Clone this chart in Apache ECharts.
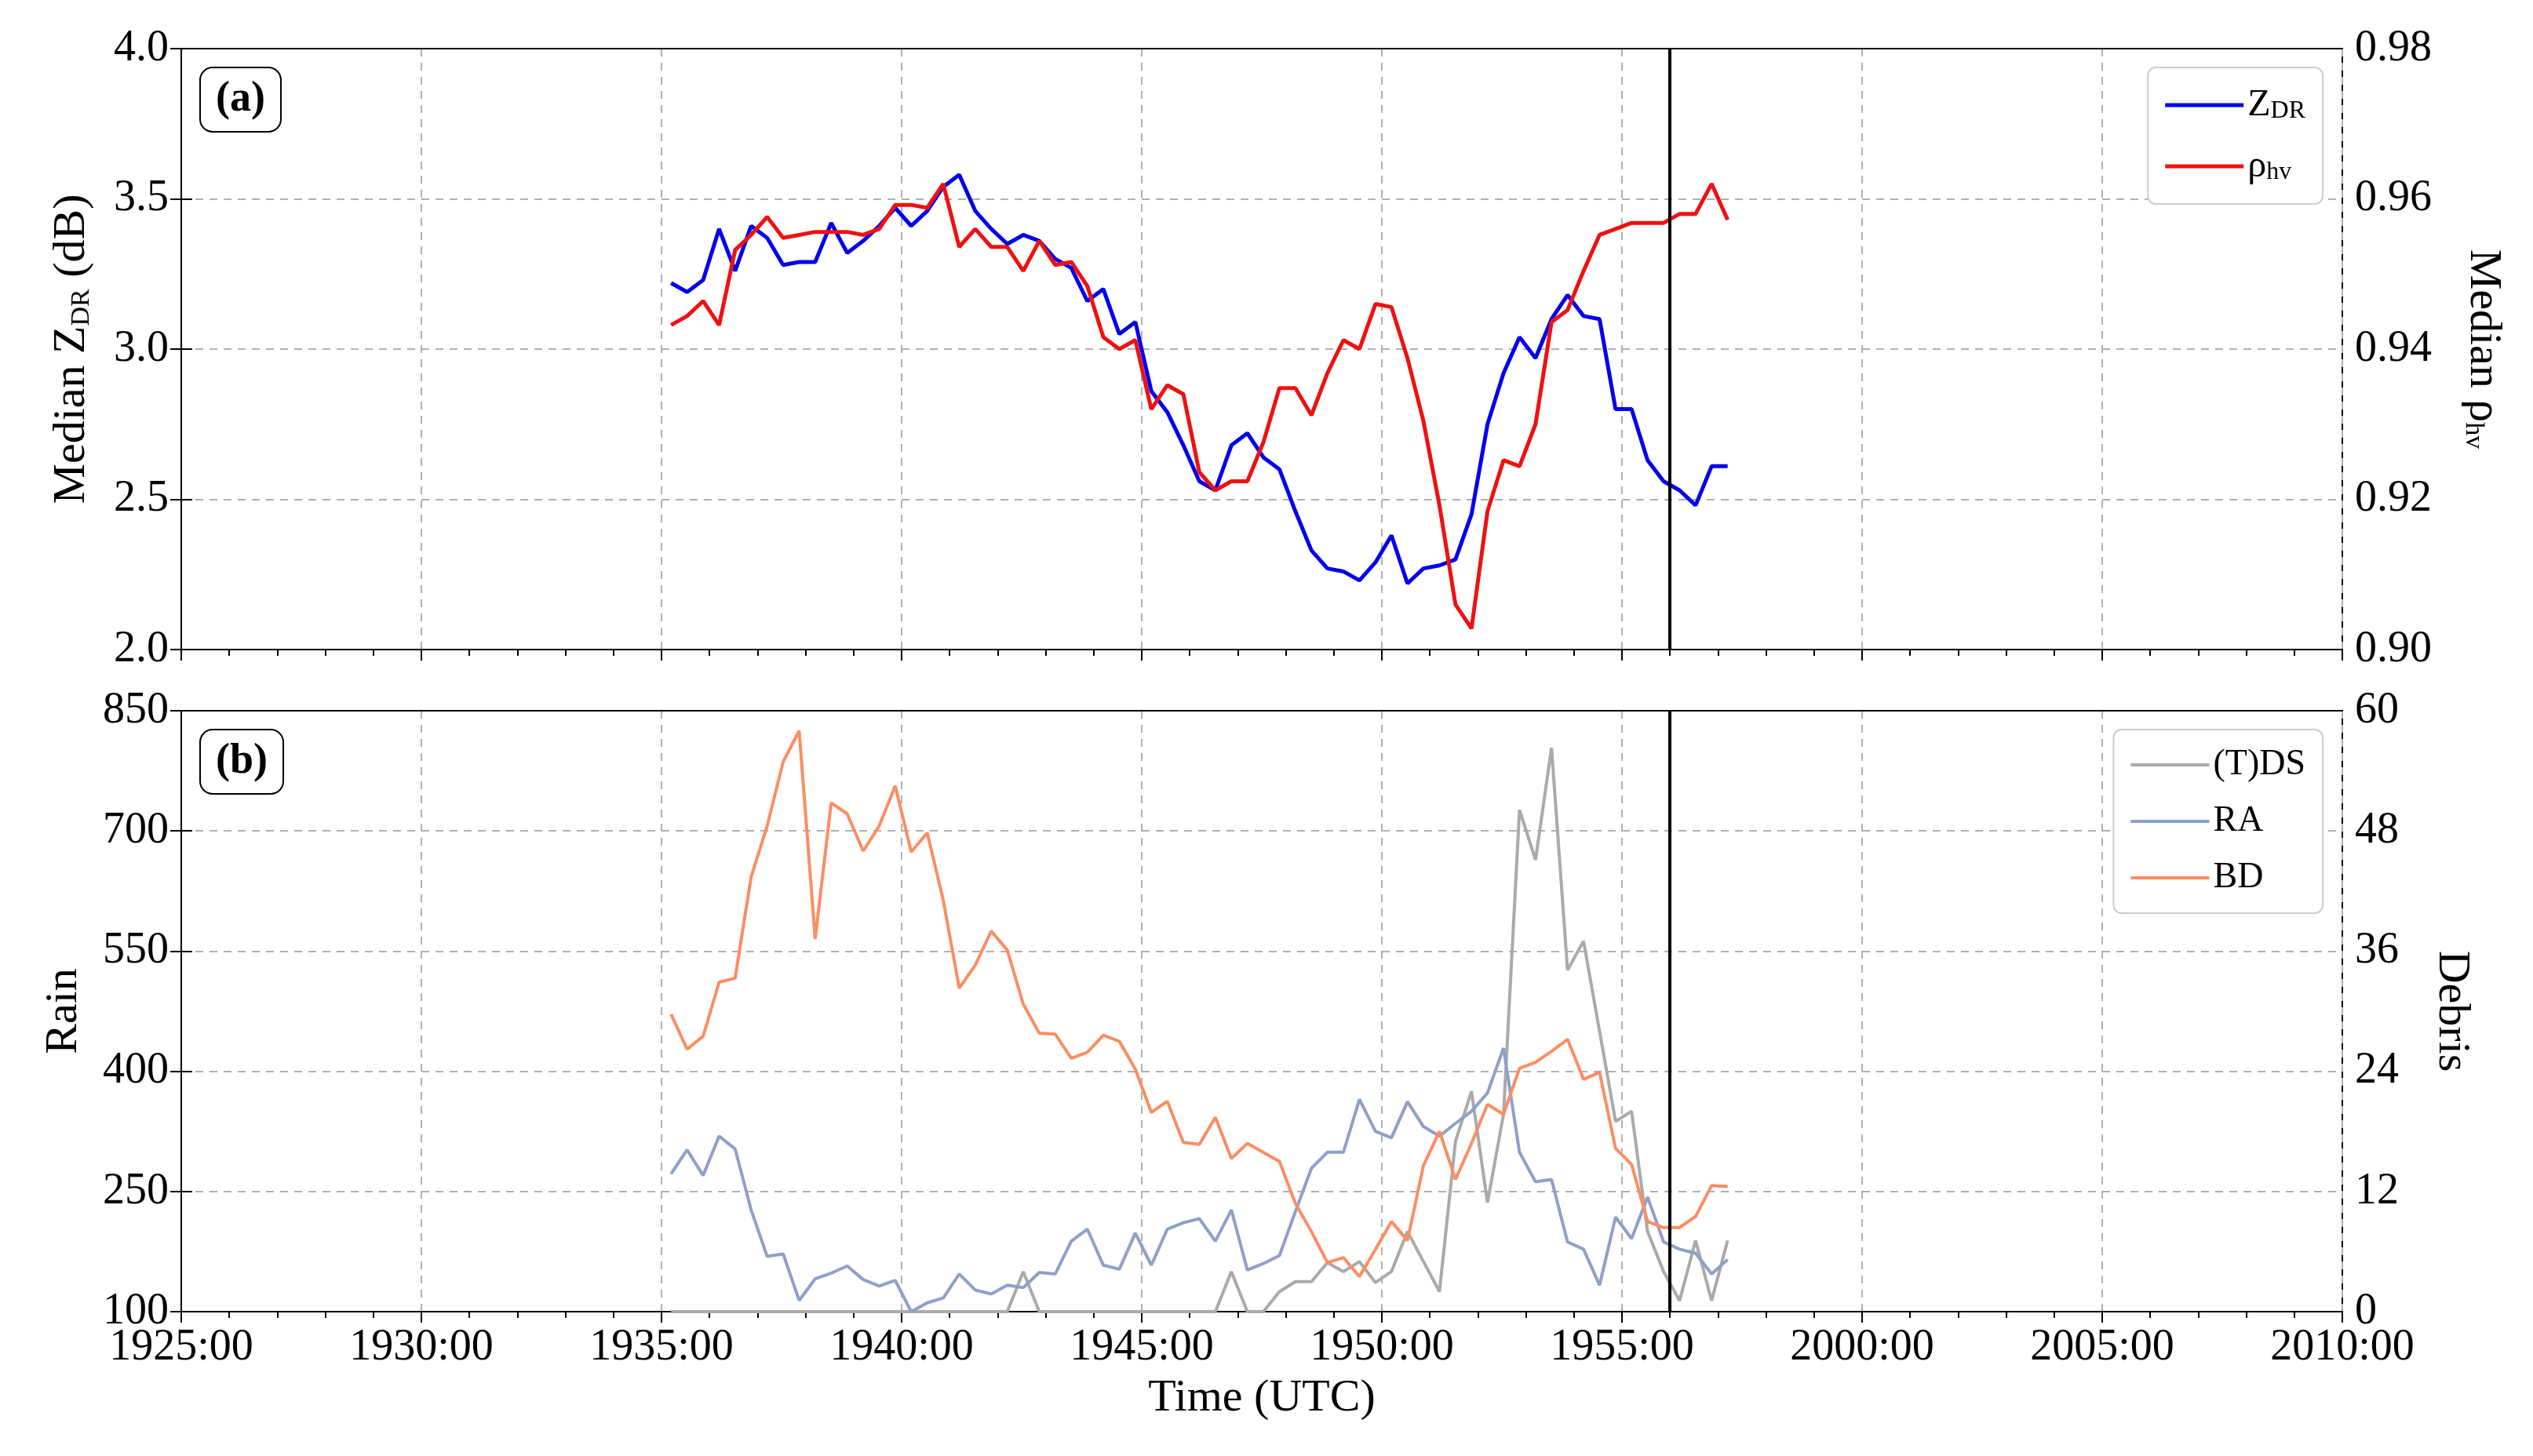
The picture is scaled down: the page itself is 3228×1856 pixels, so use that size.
<!DOCTYPE html>
<html>
<head>
<meta charset="utf-8">
<script src="https://cdn.jsdelivr.net/npm/echarts@6/dist/echarts.min.js"></script>
<style>html,body{margin:0;padding:0;background:#fff}#main{width:3228px;height:1856px}</style>
</head>
<body>
<div id="main"></div>
<script>
// scan times (UTC), one every ~20 s
var scanTimes = [
  '19:35:12','19:35:32','19:35:52','19:36:12','19:36:32','19:36:52','19:37:12','19:37:32','19:37:52',
  '19:38:12','19:38:32','19:38:52','19:39:12','19:39:32','19:39:52','19:40:12','19:40:32','19:40:52',
  '19:41:12','19:41:32','19:41:52','19:42:12','19:42:32','19:42:52','19:43:12','19:43:32','19:43:52',
  '19:44:12','19:44:32','19:44:52','19:45:12','19:45:32','19:45:52','19:46:12','19:46:32','19:46:52',
  '19:47:12','19:47:32','19:47:52','19:48:12','19:48:32','19:48:52','19:49:12','19:49:32','19:49:52',
  '19:50:12','19:50:32','19:50:52','19:51:12','19:51:32','19:51:52','19:52:12','19:52:32','19:52:52',
  '19:53:12','19:53:32','19:53:52','19:54:12','19:54:32','19:54:52','19:55:12','19:55:32','19:55:52',
  '19:56:12','19:56:32','19:56:52','19:57:12'
];
var zdr = [
  3.22,3.19,3.23,3.40,3.26,3.41,3.37,3.28,3.29,3.29,3.42,3.32,3.36,3.41,3.47,3.41,3.46,3.54,3.58,3.46,
  3.40,3.35,3.38,3.36,3.30,3.27,3.16,3.20,3.05,3.09,2.86,2.79,2.68,2.56,
  2.53,2.68,2.72,2.64,2.60,2.46,2.33,2.27,2.26,2.23,2.29,2.38,2.22,2.27,2.28,2.30,2.45,2.75,2.92,3.04,
  2.97,3.10,3.18,3.11,3.10,2.80,2.80,2.63,2.56,2.53,2.48,2.61,2.61
];
var rhohv = [
  0.9432,0.9444,0.9464,0.9432,0.9532,0.9552,0.9576,0.9548,0.9552,0.9556,0.9556,0.9556,0.9552,0.9560,
  0.9592,0.9592,0.9588,0.9620,0.9536,0.9560,0.9536,0.9536,0.9504,0.9544,0.9512,0.9516,0.9484,0.9416,
  0.9400,0.9412,0.9320,0.9352,0.9340,0.9236,
  0.9212,0.9224,0.9224,0.9276,0.9348,0.9348,0.9312,0.9368,0.9412,0.9400,0.9460,0.9456,0.9388,0.9304,
  0.9192,0.9060,0.9028,0.9184,0.9252,0.9244,0.9300,0.9436,0.9452,0.9504,0.9552,0.9560,0.9568,0.9568,
  0.9568,0.9580,0.9580,0.9620,0.9572
];
var tds = [
  0,0,0,0,0,0,0,0,0,0,0,0,0,0,0,0,0,0,0,0,0,0,4.0,0,0,0,0,0,0,0,0,0,0,0,
  0,4.0,0,0,2.0,3.0,3.0,4.9,4.0,5.0,2.9,4.0,8.0,5.0,2.0,17.0,22.0,10.9,19.7,50.1,45.1,56.3,34.1,
  37.0,28.0,19.0,20.0,8.0,4.0,1.1,7.1,1.1,7.1
];
var ra = [
  272,302,270,319,303,227,169,172,114,141,148,157,140,132,139,100,111,117,147,127,122,133,130,149,
  147,188,203,158,153,198,158,203,211,216,
  188,227,152,160,170,225,279,299,299,365,325,317,362,331,319,335,350,373,429,299,262,265,187,178,
  133,218,191,243,187,178,173,147,165
];
var bd = [
  29.7,26.2,27.5,32.9,33.3,43.4,48.5,54.9,58.0,37.2,50.8,49.7,46.0,48.5,52.5,45.9,47.8,41.1,32.3,
  34.6,38.0,36.1,30.7,27.8,27.7,25.3,25.9,27.6,27.0,24.2,19.9,21.0,16.9,16.7,
  19.4,15.3,16.8,15.9,15.0,10.8,8.0,4.9,5.4,3.5,6.2,9.0,7.1,14.6,18.0,13.2,16.8,20.7,19.7,24.3,
  24.9,26.0,27.2,23.2,23.9,16.3,14.7,9.0,8.4,8.4,9.5,12.6,12.5
];
var tornadoTime = '19:56:00';

// minutes since 19:25:00
function toMin(s) {
  var p = s.split(':');
  return (+p[0]) * 60 + (+p[1]) + (+p[2]) / 60 - (19 * 60 + 25);
}
function pairs(vals) {
  return vals.map(function (v, i) { return [toMin(scanTimes[i]), v]; });
}
function timeLabel(v) {
  var t = 19 * 60 + 25 + v;
  var h = Math.floor(t / 60), m = Math.round(t % 60);
  return h + (m < 10 ? '0' : '') + m + ':00';
}

var FONT = 'Liberation Serif';
var dash = {show: true, lineStyle: {color: '#b0b0b0', type: [10, 8], width: 2}};
var sub = {fontSize: 34, fontFamily: FONT, verticalAlign: 'bottom', padding: [18, 0, 0, 0]};

var vline = {
  silent: true, symbol: ['none', 'none'], label: {show: false},
  lineStyle: {color: '#000', type: 'solid', width: 4},
  data: [{xAxis: toMin(tornadoTime)}]
};

function xAxisFor(idx, labels) {
  return {
    type: 'value', gridIndex: idx, min: 0, max: 45, interval: 5,
    axisLine: {show: true, onZero: false, lineStyle: {color: '#000', width: 2}},
    axisTick: {show: true, length: 14, lineStyle: {color: '#000', width: 2}},
    minorTick: {show: true, splitNumber: 5, length: 8, lineStyle: {color: '#000', width: 2}},
    axisLabel: {show: labels, formatter: timeLabel, fontSize: 56, fontFamily: FONT, color: '#000', margin: 18},
    splitLine: dash,
    name: labels ? 'Time (UTC)' : '', nameLocation: 'middle', nameGap: 82,
    nameTextStyle: {fontSize: 58, fontFamily: FONT, color: '#000'}
  };
}
// plain top spine so the last dashed grid line does not show through
function topSpine(idx) {
  return {
    type: 'value', gridIndex: idx, position: 'top', min: 0, max: 45,
    axisLine: {show: true, onZero: false, lineStyle: {color: '#000', width: 2}},
    axisTick: {show: false}, axisLabel: {show: false}, splitLine: {show: false}
  };
}
function yAxisFor(idx, pos, min, max, interval, dec, name, rot, gap) {
  return {
    type: 'value', gridIndex: idx, position: pos, min: min, max: max, interval: interval,
    axisLine: {show: true, lineStyle: {color: '#000', width: 2}},
    axisTick: {show: true, length: 14, lineStyle: {color: '#000', width: 2}},
    axisLabel: {fontSize: 56, fontFamily: FONT, color: '#000', margin: 16,
      formatter: function (v) { return v.toFixed(dec); }},
    splitLine: pos === 'left' ? dash : {show: false},
    name: name, nameLocation: 'middle', nameRotate: rot, nameGap: gap,
    nameTextStyle: {fontSize: 58, fontFamily: FONT, color: '#000', rich: {sub: sub}}
  };
}

var chart = echarts.init(document.getElementById('main'));
chart.setOption({
  backgroundColor: '#fff',
  animation: false,
  grid: [
    {left: 231, right: 243, top: 62, height: 766, show: true, borderColor: '#000', borderWidth: 2},
    {left: 231, right: 243, top: 906, height: 766, show: true, borderColor: '#000', borderWidth: 2}
  ],
  title: [
    {text: '(a)', left: 255, top: 86, padding: [14, 20], borderColor: '#000', borderWidth: 2, borderRadius: 16,
      textStyle: {fontSize: 54, fontWeight: 'bold', fontFamily: FONT, color: '#000'}},
    {text: '(b)', left: 255, top: 930, padding: [14, 20], borderColor: '#000', borderWidth: 2, borderRadius: 16,
      textStyle: {fontSize: 54, fontWeight: 'bold', fontFamily: FONT, color: '#000'}}
  ],
  legend: [
    {data: ['ZDR', 'rho'], orient: 'vertical', right: 268, top: 86, icon: 'rect', itemWidth: 100, itemHeight: 5, itemGap: 30,
      padding: [24, 22], borderColor: '#cccccc', borderWidth: 2, borderRadius: 10, backgroundColor: '#fff',
      formatter: function (n) { return n === 'ZDR' ? 'Z{sub|DR}' : 'ρ{sub|hv}'; },
      textStyle: {fontSize: 48, fontFamily: FONT, color: '#000', rich: {sub: {fontSize: 32, fontFamily: FONT, verticalAlign: 'bottom', padding: [16, 0, 0, 0]}}}},
    {data: ['(T)DS', 'RA', 'BD'], orient: 'vertical', right: 268, top: 930, icon: 'rect', itemWidth: 100, itemHeight: 4, itemGap: 26,
      padding: [22, 22], borderColor: '#cccccc', borderWidth: 2, borderRadius: 10, backgroundColor: '#fff',
      textStyle: {fontSize: 46, fontFamily: FONT, color: '#000'}}
  ],
  xAxis: [xAxisFor(0, false), xAxisFor(1, true), topSpine(0), topSpine(1)],
  yAxis: [
    yAxisFor(0, 'left', 2, 4, 0.5, 1, 'Median Z{sub|DR} (dB)', 90, 110),
    yAxisFor(0, 'right', 0.90, 0.98, 0.02, 2, 'Median ρ{sub|hv}', -90, 150),
    yAxisFor(1, 'left', 100, 850, 150, 0, 'Rain', 90, 120),
    yAxisFor(1, 'right', 0, 60, 12, 0, 'Debris', -90, 110)
  ],
  series: [
    {name: 'ZDR', type: 'line', xAxisIndex: 0, yAxisIndex: 0, data: pairs(zdr), symbol: 'none',
      lineStyle: {color: '#0000ee', width: 5}, itemStyle: {color: '#0000ee'}, markLine: vline},
    {name: 'rho', type: 'line', xAxisIndex: 0, yAxisIndex: 1, data: pairs(rhohv), symbol: 'none',
      lineStyle: {color: '#ee1111', width: 5}, itemStyle: {color: '#ee1111'}},
    {name: '(T)DS', type: 'line', xAxisIndex: 1, yAxisIndex: 3, data: pairs(tds), symbol: 'none',
      lineStyle: {color: '#aaaaaa', width: 4}, itemStyle: {color: '#aaaaaa'}, markLine: vline},
    {name: 'RA', type: 'line', xAxisIndex: 1, yAxisIndex: 2, data: pairs(ra), symbol: 'none',
      lineStyle: {color: '#8da0cb', width: 4}, itemStyle: {color: '#8da0cb'}},
    {name: 'BD', type: 'line', xAxisIndex: 1, yAxisIndex: 3, data: pairs(bd), symbol: 'none',
      lineStyle: {color: '#fc8d62', width: 4}, itemStyle: {color: '#fc8d62'}}
  ]
});
</script>
</body>
</html>
